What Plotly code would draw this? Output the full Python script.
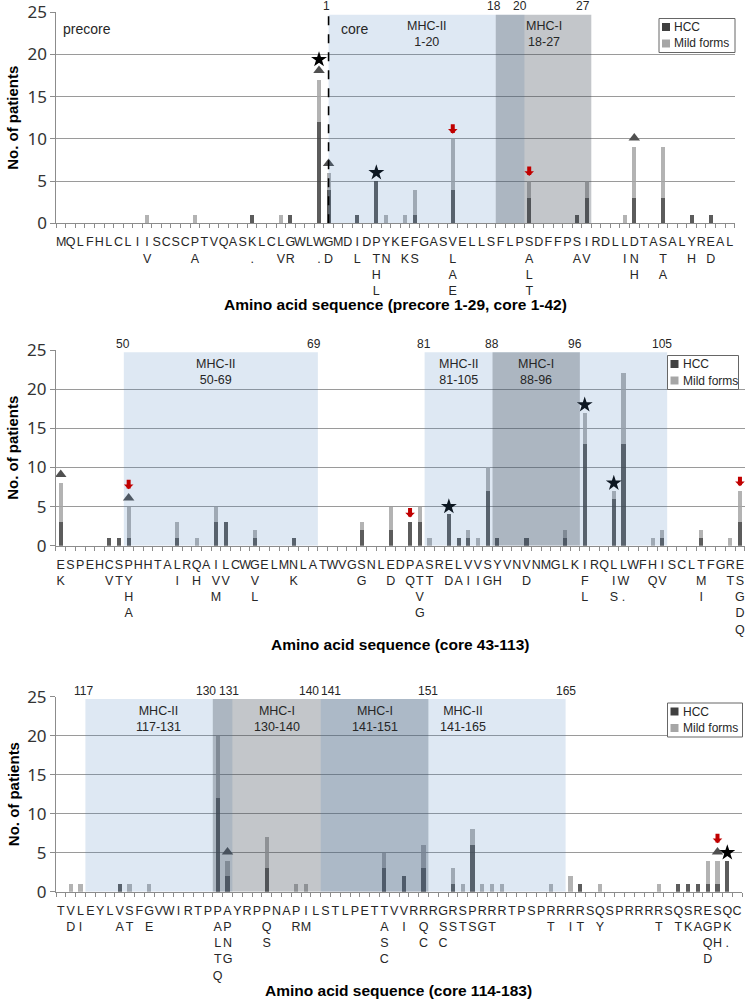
import plotly.graph_objects as go

W, H = 749, 1002


def px(x):
    return x / W


def py(y):
    return 1 - y / H


# ---------------- panel 1: precore 1-29, core 1-42 ----------------
seq1 = "MQLFHLCLIISCSCPTVQASKLCLGWLWG" + "MDIDPYKEFGASVELLSFLPSDFFPSIRDLLDTASALYREAL"
var1 = {9: "V", 14: "A", 20: ".", 23: "V", 24: "R", 27: ".", 28: "D", 31: "L", 33: "THL",
        34: "N", 36: "K", 37: "S", 41: "LAE", 49: "ALT", 54: "A", 55: "V", 59: "I",
        60: "NH", 63: "TA", 66: "H", 68: "D"}
hcc1 = [0, 0, 0, 0, 0, 0, 0, 0, 0, 0,
        0, 0, 0, 0, 0, 0, 0, 0, 0, 0,
        1, 0, 0, 0, 1, 0, 0, 12, 4, 0,
        0, 1, 0, 5, 0, 0, 0, 1, 0, 0,
        0, 4, 0, 0, 0, 0, 0, 0, 0, 3,
        0, 0, 0, 0, 1, 3, 0, 0, 0, 0,
        3, 0, 0, 3, 0, 0, 1, 0, 1, 0,
        0]
mild1 = [0, 0, 0, 0, 0, 0, 0, 0, 0, 1,
         0, 0, 0, 0, 1, 0, 0, 0, 0, 0,
         0, 0, 0, 1, 0, 0, 0, 5, 2, 0,
         0, 0, 0, 0, 1, 0, 1, 3, 0, 0,
         0, 6, 0, 0, 0, 0, 0, 0, 0, 2,
         0, 0, 0, 0, 0, 2, 0, 0, 0, 1,
         6, 0, 0, 6, 0, 0, 0, 0, 0, 0,
         0]
tri1 = [27, 28, 60]
star1 = [27, 33]
arrow1 = [41, 49]
regions1 = [("MHC-II", 1, 20), ("MHC-I", 18, 27)]

# ---------------- panel 2: core 43-113 ----------------
seq2 = "ESPEHCSPHHTALRQAILCWGELMNLATWVGSNLEDPASRELVVSYVNVNMGLKIRQLLWFHISCLTFGRE"
var2 = {0: "K", 5: "V", 6: "T", 7: "YHA", 12: "I", 14: "H", 16: "VM", 17: "V", 20: "VL",
        24: "K", 31: "G", 34: "D", 36: "Q", 37: "TVG", 38: "T", 40: "D", 41: "A", 42: "I",
        43: "I", 44: "G", 45: "H", 48: "D", 54: "FL", 57: "IS", 58: "W.", 61: "Q", 62: "V",
        66: "MI", 69: "T", 70: "SGDQ"}
hcc2 = [3, 0, 0, 0, 0, 1, 1, 1, 0, 0,
        0, 0, 1, 0, 0, 0, 3, 3, 0, 0,
        1, 0, 0, 0, 1, 0, 0, 0, 0, 0,
        0, 2, 0, 0, 2, 0, 3, 3, 0, 0,
        4, 1, 1, 0, 7, 1, 0, 0, 1, 0,
        0, 0, 1, 0, 13, 0, 0, 6, 13, 0,
        0, 0, 1, 0, 0, 0, 1, 0, 0, 0,
        3]
mild2 = [5, 0, 0, 0, 0, 0, 0, 4, 0, 0,
         0, 0, 2, 0, 1, 0, 2, 0, 0, 0,
         1, 0, 0, 0, 0, 0, 0, 0, 0, 0,
         0, 1, 0, 0, 3, 0, 0, 2, 1, 0,
         0, 0, 1, 1, 3, 0, 0, 0, 0, 0,
         0, 0, 1, 0, 4, 0, 0, 1, 9, 0,
         0, 1, 1, 0, 0, 0, 1, 0, 0, 1,
         4]
tri2 = [0, 7]
star2 = [40, 54, 57]
arrow2 = [7, 36, 70]
regions2 = [("MHC-II", 50, 69), ("MHC-II", 81, 105), ("MHC-I", 88, 96)]

# ---------------- panel 3: core 114-183 ----------------
seq3 = "TVLEYLVSFGVWIRTPPAYRPPNAPILSTLPETTVVRRRGRSPRRRTPSPRRRRSQSPRRRRSQSRESQC"
var3 = {1: "D", 2: "I", 6: "A", 7: "T", 9: "E", 16: "ALTQ", 17: "PNG", 21: "QS", 24: "R",
        25: "M", 33: "ASC", 35: "I", 37: "QC", 39: "SC", 40: "S", 41: "T", 42: "S", 43: "G",
        44: "T", 50: "T", 52: "I", 53: "T", 55: "Y", 61: "T", 63: "T", 64: "K", 65: "A",
        66: "GQD", 67: "PH", 68: "K."}
hcc3 = [0, 0, 0, 0, 0, 0, 1, 0, 0, 0,
        0, 0, 0, 0, 0, 0, 12, 2, 0, 0,
        0, 3, 0, 0, 0, 0, 0, 0, 0, 0,
        0, 0, 0, 3, 0, 2, 0, 3, 0, 0,
        1, 0, 6, 0, 0, 0, 0, 0, 0, 0,
        0, 0, 0, 1, 0, 0, 0, 0, 0, 0,
        0, 0, 0, 1, 1, 1, 1, 1, 4, 0]
mild3 = [0, 1, 1, 0, 0, 0, 0, 1, 0, 1,
         0, 0, 0, 0, 0, 0, 8, 2, 0, 0,
         0, 4, 0, 0, 1, 1, 0, 0, 0, 0,
         0, 0, 0, 2, 0, 0, 0, 3, 0, 0,
         2, 1, 2, 1, 1, 1, 0, 0, 0, 0,
         1, 0, 2, 0, 0, 1, 0, 0, 0, 0,
         0, 1, 0, 0, 0, 0, 3, 3, 0, 0]
tri3 = [17, 67]
star3 = [68]
arrow3 = [67]
regions3 = [("MHC-II", 117, 131), ("MHC-I", 130, 140), ("MHC-I", 141, 151), ("MHC-II", 141, 165)]

legend_names = ["HCC", "Mild forms"]

DARK = "#404040"
LIGHT = "#a6a6a6"
FILL = {"MHC-II": "rgba(70,125,190,0.18)", "MHC-I": "rgba(55,65,78,0.30)"}
FONT = "Liberation Sans, Arial, sans-serif"
AXC = "#8c8c8c"
TXT = "#262626"

panels = [
    dict(seq=seq1, var=var1, hcc=hcc1, mild=mild1, tri=tri1, star=star1, arrow=arrow1,
         regions=regions1, offset=28, core_start=28.0, label_x=[38.25, 50.5],
         num_shift={1: -2, 18: -2, 20: -4, 27: -8},
         xpx=(56.3, 734.6), ypx=(12.3, 223.3), leg=(735, 18.5, 76), title_y=304.5,
         title="Amino acid sequence (precore 1-29, core 1-42)"),
    dict(seq=seq2, var=var2, hcc=hcc2, mild=mild2, tri=tri2, star=star2, arrow=arrow2,
         regions=regions2, offset=-43, core_start=None, label_x=[16.0, 41.0, 49.0],
         num_shift={50: -1, 69: -4, 81: -1, 88: -1, 96: -5, 105: -5},
         xpx=(55.9, 744.8), ypx=(350.0, 545.7), leg=(738.5, 355.5, 71), title_y=644,
         title="Amino acid sequence (core 43-113)"),
    dict(seq=seq3, var=var3, hcc=hcc3, mild=mild3, tri=tri3, star=star3, arrow=arrow3,
         regions=regions3, offset=-114, core_start=None, label_x=[10.0, 22.0, 32.0, 41.0],
         num_shift={117: -2, 130: -7, 131: -3, 140: -12, 141: 10, 151: 0, 165: 0},
         xpx=(56.0, 742.0), ypx=(696.7, 891.7), leg=(742.5, 703, 75), title_y=990,
         title="Amino acid sequence (core 114-183)"),
]

fig = go.Figure()
shapes, annotations = [], []
layout = {}

for k, p in enumerate(panels, start=1):
    sfx = "" if k == 1 else str(k)
    xr, yr = "x" + sfx, "y" + sfx
    n = len(p["seq"])
    idx = list(range(n))
    total = [a + b for a, b in zip(p["hcc"], p["mild"])]

    fig.add_trace(go.Bar(x=idx, y=p["hcc"], width=0.42, marker=dict(color=DARK, line_width=0),
                         opacity=0.85, xaxis=xr, yaxis=yr, name=legend_names[0]))
    fig.add_trace(go.Bar(x=idx, y=p["mild"], width=0.42, marker=dict(color=LIGHT, line_width=0),
                         opacity=0.85, xaxis=xr, yaxis=yr, name=legend_names[1]))

    # triangles and stars
    ty = [total[i] + 1.1 for i in p["tri"]]
    fig.add_trace(go.Scatter(x=p["tri"], y=ty, mode="markers",
                             marker=dict(symbol="triangle-up", size=10, color="#505050"),
                             xaxis=xr, yaxis=yr))
    sy = [total[i] + (2.4 if i in p["tri"] else 1.0) for i in p["star"]]
    fig.add_trace(go.Scatter(x=p["star"], y=sy, mode="markers",
                             marker=dict(symbol="star", size=12, color="black"),
                             xaxis=xr, yaxis=yr))
    for i in p["arrow"]:
        tip = total[i] + (2.2 if i in p["tri"] else 0.6)
        annotations.append(dict(x=i, y=tip, xref=xr, yref=yr, text="", showarrow=True,
                                arrowhead=1, arrowsize=0.4, arrowwidth=4, arrowcolor="#c00000",
                                ax=0, ay=-11))

    # MHC regions (semi-transparent, over the bars)
    nums = []
    for (kind, a, b), lx in zip(p["regions"], p["label_x"]):
        x0 = a + p["offset"] - 0.5
        if p["core_start"] is not None and a == 1:
            x0 = p["core_start"]
        x1 = b + p["offset"] + 0.5
        shapes.append(dict(type="rect", xref=xr, yref=yr, x0=x0, x1=x1, y0=0, y1=24.7,
                           fillcolor=FILL[kind], line_width=0, layer="above"))
        annotations.append(dict(x=lx, y=25, xref=xr, yref=yr, yanchor="middle", yshift=-22,
                                text=f"{kind}<br>{a}-{b}", showarrow=False,
                                font=dict(family=FONT, size=12.5, color=TXT)))
        for num, xe in [(a, x0), (b, x1)]:
            if num not in [m for m, _ in nums]:
                nums.append((num, xe))
    for num, xe in nums:
        annotations.append(dict(x=xe, y=25, xref=xr, yref=yr, yanchor="middle", yshift=6,
                                xshift=p["num_shift"].get(num, 0), text=str(num),
                                showarrow=False, font=dict(family=FONT, size=12, color=TXT)))

    if p["core_start"] is not None:
        shapes.append(dict(type="line", xref=xr, yref=yr, x0=p["core_start"], x1=p["core_start"],
                           y0=0, y1=25, line=dict(color="black", width=1.6, dash="dash"),
                           layer="above"))
        annotations.append(dict(x=-0.5, y=25, xref=xr, yref=yr, xanchor="left", yanchor="middle",
                                xshift=5, yshift=-17, text="precore", showarrow=False,
                                font=dict(family=FONT, size=14, color=TXT)))
        annotations.append(dict(x=p["core_start"], y=25, xref=xr, yref=yr, xanchor="left",
                                yanchor="middle", xshift=10, yshift=-17, text="core",
                                showarrow=False, font=dict(family=FONT, size=14, color=TXT)))

    ticktext = [c + "".join("<br>" + v for v in p["var"].get(i, "")) for i, c in enumerate(p["seq"])]
    x0px, x1px = p["xpx"]
    ytop, ybot = p["ypx"]
    layout["xaxis" + sfx] = dict(
        domain=[px(x0px), px(x1px)], anchor=yr, range=[-0.5, n - 0.5],
        tickmode="array", tickvals=idx, ticktext=ticktext,
        ticks="outside", ticklen=7, tickcolor="rgba(0,0,0,0)",
        tickfont=dict(family=FONT, size=12.5, color=TXT), tickangle=0,
        ticklabeloverflow="allow",
        showline=True, linecolor=AXC, linewidth=1, showgrid=False, zeroline=False,
        minor=dict(ticks="outside", ticklen=4, tickcolor=AXC, tickmode="linear",
                   tick0=-0.5, dtick=1, showgrid=False))
    layout["yaxis" + sfx] = dict(
        domain=[py(ybot), py(ytop)], anchor=xr, range=[0, 25],
        tickmode="linear", tick0=0, dtick=5, ticks="outside", ticklen=5, tickcolor=AXC,
        tickfont=dict(family="Noto Sans", size=17, color="#333333"),
        ticklabeloverflow="allow",
        showline=True, linecolor=AXC, linewidth=1, showgrid=True, gridcolor="#9a9a9a",
        gridwidth=1, zeroline=False)

    # legend box (HCC / Mild forms)
    right, top, bw = p["leg"]
    left, bh = right - bw, 34
    shapes.append(dict(type="rect", xref="paper", yref="paper", x0=px(left), x1=px(right),
                       y0=py(top + bh), y1=py(top), fillcolor="white",
                       line=dict(color="#666666", width=1), layer="above"))
    for j, (nm, col) in enumerate(zip(legend_names, [DARK, LIGHT])):
        cy = top + 8.5 + 16.5 * j
        shapes.append(dict(type="rect", xref="paper", yref="paper", x0=px(left + 3),
                           x1=px(left + 11), y0=py(cy + 4), y1=py(cy - 4),
                           fillcolor=col, line_width=0, layer="above"))
        annotations.append(dict(x=px(left + 13), y=py(cy), xref="paper", yref="paper",
                                xanchor="left", yanchor="middle", text=nm, showarrow=False,
                                font=dict(family=FONT, size=12, color=TXT)))

    annotations.append(dict(x=px((x0px + x1px) / 2), y=py(p["title_y"]), xref="paper",
                            yref="paper", text="<b>" + p["title"] + "</b>", showarrow=False,
                            xanchor="center", yanchor="middle",
                            font=dict(family=FONT, size=15.5, color="black")))
    annotations.append(dict(x=px(13), y=py((ytop + ybot) / 2), xref="paper", yref="paper",
                            text="<b>No. of patients</b>", textangle=-90, showarrow=False,
                            xanchor="center", yanchor="middle",
                            font=dict(family=FONT, size=15, color="black")))

fig.update_layout(
    width=W, height=H, margin=dict(l=0, r=0, t=0, b=0, autoexpand=False),
    barmode="stack", plot_bgcolor="white", paper_bgcolor="white", showlegend=False,
    hovermode=False, shapes=shapes, annotations=annotations, **layout)

# the page's default body margin would push the 749x1002 figure 8px off the window
fig.write_html("out.html", config={"displayModeBar": False},
               post_script="document.body.style.margin='0px';")
